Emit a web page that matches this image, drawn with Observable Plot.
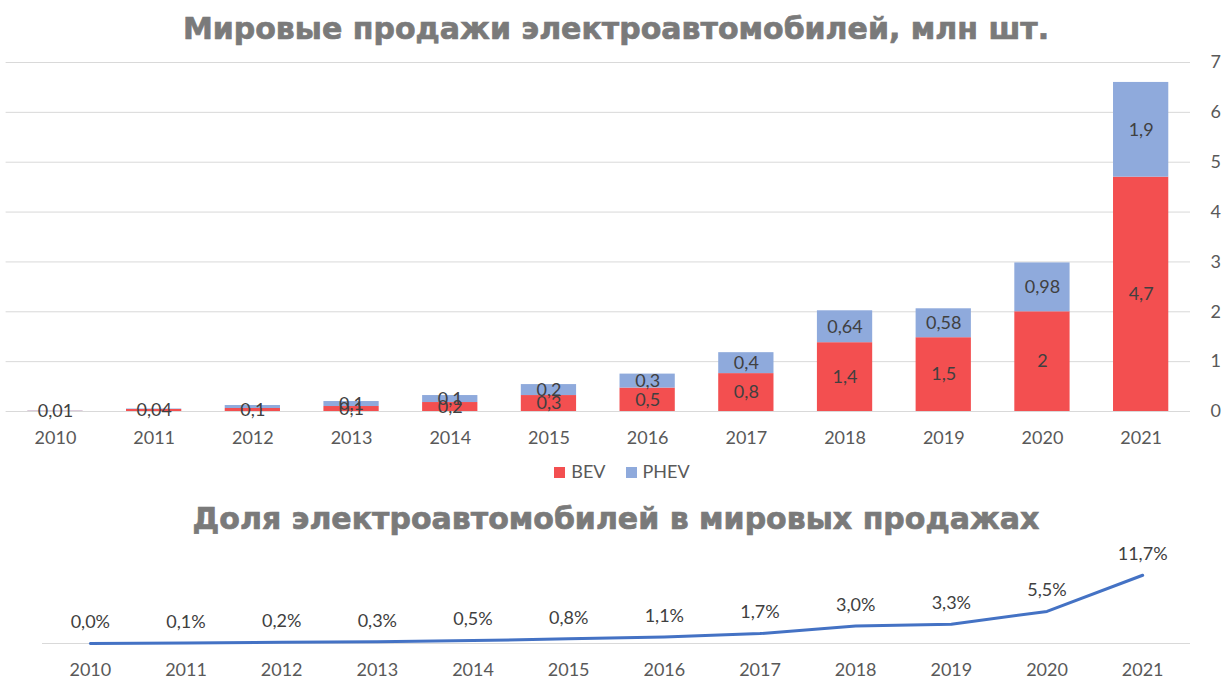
<!DOCTYPE html>
<html>
<head>
<meta charset="utf-8">
<script src="https://cdn.jsdelivr.net/npm/d3@7"></script>
<script src="https://cdn.jsdelivr.net/npm/@observablehq/plot@0.6"></script>
<style>
  body { margin: 0; background: #fff; }
  #wrap { position: relative; width: 1232px; height: 687px; overflow: hidden; background: #fff; font-family: Lato, "Open Sans", sans-serif; }
  .title { position: absolute; left: 0; width: 1232px; text-align: center; font-family: "DejaVu Sans", sans-serif; font-weight: bold; color: #7a7a7a; font-size: 30px; white-space: nowrap; -webkit-text-stroke: 0.7px #7a7a7a; }
  #legend { position: absolute; top: 460px; left: 6px; width: 1232px; text-align: center; font-size: 18px; color: #595959; }
  #legend span.sw { display: inline-block; width: 11px; height: 11px; margin-right: 6px; vertical-align: 0px; }
  #legend span.item { margin: 0 10px; }
  #bars { position: absolute; top: 40px; left: 0; }
  #line { position: absolute; top: 540px; left: 0; }
</style>
</head>
<body>
<div id="wrap">
  <div class="title" id="t1" style="top:11px">Мировые продажи электроавтомобилей, млн шт.</div>
  <div id="bars"></div>
  <div id="legend"></div>
  <div class="title" id="t2" style="top:501px">Доля электроавтомобилей в мировых продажах</div>
  <div id="line"></div>
</div>
<script>
const years = ["2010","2011","2012","2013","2014","2015","2016","2017","2018","2019","2020","2021"];
const bev = [0.004, 0.04, 0.06, 0.1, 0.18, 0.32, 0.47, 0.76, 1.38, 1.48, 2, 4.7];
const phev = [0.006, 0.01, 0.06, 0.1, 0.14, 0.22, 0.28, 0.42, 0.64, 0.58, 0.98, 1.9];
const bevLabels = ["0,01","0,04","0,1","0,1","0,2","0,3","0,5","0,8","1,4","1,5","2","4,7"];
const phevLabels = ["","","","0,1","0,1","0,2","0,3","0,4","0,64","0,58","0,98","1,9"];
const shareValues = [0.0, 0.1, 0.2, 0.3, 0.5, 0.8, 1.1, 1.7, 3.0, 3.3, 5.5, 11.7];
const shareLabels = ["0,0%","0,1%","0,2%","0,3%","0,5%","0,8%","1,1%","1,7%","3,0%","3,3%","5,5%","11,7%"];
const seriesNames = ["BEV", "PHEV"];
const seriesColors = ["#F34F50", "#8FAADC"];
const yTicks = [0,1,2,3,4,5,6,7];

const rows = [];
years.forEach((y, i) => {
  rows.push({year: y, series: "BEV", value: bev[i], label: bevLabels[i]});
  rows.push({year: y, series: "PHEV", value: phev[i], label: phevLabels[i]});
});
const shareRows = years.map((y, i) => ({year: y, value: shareValues[i], label: shareLabels[i]}));

const font = "Lato, 'Open Sans', sans-serif";

const bars = Plot.plot({
  width: 1232,
  height: 410,
  marginLeft: 5.6,
  marginRight: 42,
  marginTop: 22,
  marginBottom: 39,
  style: {fontFamily: font, fontSize: "18px", color: "#595959", background: "transparent"},
  x: {domain: years, paddingInner: 0.44, paddingOuter: 0.22, round: false, label: null},
  y: {domain: [0, 7], label: null},
  color: {domain: seriesNames, range: seriesColors},
  marks: [
    Plot.ruleY(yTicks, {stroke: "#d9d9d9", strokeWidth: 1}),
    Plot.barY(rows, {x: "year", y: "value", fill: "series"}),
    Plot.text(rows, Plot.stackY({x: "year", y: "value", text: "label", fill: "#404040", fontSize: 18})),
    Plot.axisY({anchor: "right", ticks: yTicks, tickSize: 0, tickPadding: 20, tickFormat: d => String(d), fill: "#595959"}),
    Plot.axisX({anchor: "bottom", tickSize: 0, tickPadding: 20, fill: "#595959"})
  ]
});
document.getElementById("bars").appendChild(bars);

const legend = document.getElementById("legend");
seriesNames.forEach((s, i) => {
  const item = document.createElement("span");
  item.className = "item";
  const sw = document.createElement("span");
  sw.className = "sw";
  sw.style.background = seriesColors[i];
  item.appendChild(sw);
  item.appendChild(document.createTextNode(s));
  legend.appendChild(item);
});

const line = Plot.plot({
  width: 1232,
  height: 147,
  marginLeft: 42,
  marginRight: 42,
  marginTop: 33,
  marginBottom: 44,
  style: {fontFamily: font, fontSize: "18px", color: "#595959", background: "transparent"},
  x: {type: "point", domain: years, padding: 0.5, round: false, label: null},
  y: {domain: [0, 12], label: null, axis: null},
  marks: [
    Plot.ruleY([0], {stroke: "#d9d9d9", strokeWidth: 1}),
    Plot.line(shareRows, {x: "year", y: "value", stroke: "#4472C4", strokeWidth: 3}),
    Plot.text(shareRows, {x: "year", y: "value", text: "label", dy: -21, fill: "#404040", fontSize: 18}),
    Plot.axisX({anchor: "bottom", tickSize: 0, tickPadding: 20, fill: "#595959"})
  ]
});
document.getElementById("line").appendChild(line);
</script>
</body>
</html>
